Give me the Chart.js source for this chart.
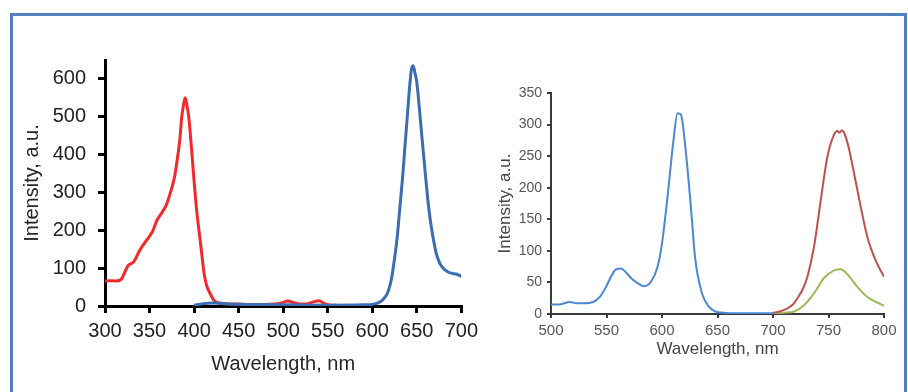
<!DOCTYPE html>
<html>
<head>
<meta charset="utf-8">
<script src="https://cdn.jsdelivr.net/npm/chart.js@4/dist/chart.umd.min.js"></script>
<style>
  html, body { margin: 0; padding: 0; background: #fff; width: 908px; height: 392px; overflow: hidden; }
  #frame { position: absolute; left: 10px; top: 13px; width: 897px; height: 400px; border: 3px solid #4f81bd; box-sizing: border-box; }
  #leftWrap { position: absolute; left: 0; top: 0; width: 484px; height: 392px; }
  #rightWrap { position: absolute; left: 470px; top: 0; width: 438px; height: 392px; }
</style>
</head>
<body>
<div id="frame"></div>
<div id="leftWrap"><canvas id="left" width="484" height="392"></canvas></div>
<div id="rightWrap"><canvas id="right" width="438" height="392"></canvas></div>
<script>
// ---------- Left panel data ----------
const leftXTicks = [300, 350, 400, 450, 500, 550, 600, 650, 700];
const leftYTicks = [0, 100, 200, 300, 400, 500, 600];

const leftRedWl  = [300, 305, 312, 318, 322, 326, 332, 339, 344, 349, 354, 358, 364, 369, 375, 378, 381, 384, 386, 388, 390, 392, 394, 397, 400, 403, 406, 409, 411, 414, 418, 422, 426, 430, 440, 450, 460, 470, 480, 490, 498, 505, 512, 520, 528, 534, 540, 546, 552, 560];
const leftRedInt = [66, 67, 66, 70, 88, 107, 116, 147, 165, 181, 200, 225, 247, 268, 312, 340, 385, 440, 496, 530, 550, 530, 500, 420, 330, 250, 190, 130, 90, 55, 33, 16, 9, 7, 5, 5, 4, 4, 4, 5, 8, 13, 9, 5, 6, 11, 14, 7, 3, 2];

const leftBlueWl  = [400, 410, 420, 430, 440, 460, 500, 550, 590, 602, 609, 613, 617, 620, 622, 625, 628, 631, 634, 637, 640, 642, 644, 646, 648, 650, 653, 656, 659, 662, 665, 668, 672, 676, 680, 685, 690, 695, 700];
const leftBlueInt = [2, 6, 8, 7, 5, 4, 3, 2, 3, 5, 11, 20, 33, 55, 77, 125, 181, 260, 338, 430, 520, 580, 625, 635, 615, 592, 520, 440, 365, 290, 230, 185, 138, 112, 99, 90, 86, 84, 78];

// ---------- Right panel data ----------
const rightXTicks = [500, 550, 600, 650, 700, 750, 800];
const rightYTicks = [0, 50, 100, 150, 200, 250, 300, 350];

const rightBlueWl  = [500, 505, 510, 517, 523, 529, 538, 544, 549, 554, 558, 563, 567, 572, 578, 584, 590, 596, 600, 605, 610, 614, 617, 621, 626, 630, 636, 642, 648, 655, 670, 685, 700];
const rightBlueInt = [15, 15, 16, 19, 17, 17, 19, 27, 41, 59, 70, 72, 67, 57, 49, 44, 51, 75, 112, 186, 270, 318, 316, 265, 170, 86, 33, 12, 4, 2, 1, 1, 1];

const rightRedWl  = [700, 706, 713, 718, 722, 727, 731, 737, 743, 749, 755, 758, 760, 762, 764, 768, 773, 779, 785, 791, 796, 800];
const rightRedInt = [2, 4, 9, 15, 25, 40, 59, 107, 180, 249, 284, 290, 287, 291, 287, 265, 223, 170, 122, 91, 72, 59];

const rightGreenWl  = [700, 710, 719, 728, 737, 746, 755, 761, 767, 776, 785, 793, 800];
const rightGreenInt = [1, 2, 4, 14, 33, 57, 69, 71, 63, 43, 27, 19, 13];

const pts = (xs, ys) => xs.map((x, i) => ({ x: x, y: ys[i] }));
const keepTicks = (list) => (s) => { s.ticks = list.map(v => ({ value: v })); };

Chart.defaults.font.family = "'Liberation Sans', Arial, sans-serif";
Chart.defaults.animation = false;

new Chart(document.getElementById('left'), {
  type: 'line',
  data: {
    datasets: [
      { data: pts(leftRedWl, leftRedInt), borderColor: '#f22a2a', borderWidth: 3, pointRadius: 0, cubicInterpolationMode: 'monotone', order: 2 },
      { data: pts(leftBlueWl, leftBlueInt), borderColor: '#3a6db2', borderWidth: 3, pointRadius: 0, cubicInterpolationMode: 'monotone', order: 1 }
    ]
  },
  options: {
    responsive: false,
    layout: { padding: { left: 0, right: 20, top: 60, bottom: 16 } },
    plugins: { legend: { display: false }, tooltip: { enabled: false } },
    scales: {
      x: {
        type: 'linear', min: 300, max: 700,
        afterBuildTicks: keepTicks(leftXTicks),
        afterFit: (s) => { s.height = 70; },
        border: { display: true, color: '#000', width: 3 },
        grid: { drawOnChartArea: false, drawTicks: true, tickLength: 7, color: '#000', lineWidth: 3 },
        ticks: { color: '#222', font: { size: 20 }, padding: 6, maxRotation: 0, autoSkip: false },
        title: { display: true, text: 'Wavelength, nm', color: '#262626', font: { size: 20 }, padding: { top: 0, bottom: 0 } }
      },
      y: {
        type: 'linear', min: 0, max: 650,
        afterBuildTicks: keepTicks(leftYTicks),
        afterFit: (s) => { s.width = 105; },
        border: { display: true, color: '#000', width: 3 },
        grid: { drawOnChartArea: false, drawTicks: true, tickLength: 7, color: '#000', lineWidth: 3 },
        ticks: { color: '#222', font: { size: 20 }, padding: 12, autoSkip: false },
        title: { display: true, text: 'Intensity, a.u.', color: '#262626', font: { size: 20 }, padding: { top: 20, bottom: 0 } }
      }
    }
  }
});

new Chart(document.getElementById('right'), {
  type: 'line',
  data: {
    datasets: [
      { data: pts(rightBlueWl, rightBlueInt), borderColor: '#4a88d2', borderWidth: 2, pointRadius: 0, cubicInterpolationMode: 'monotone' },
      { data: pts(rightRedWl, rightRedInt), borderColor: '#c0504d', borderWidth: 2, pointRadius: 0, cubicInterpolationMode: 'monotone' },
      { data: pts(rightGreenWl, rightGreenInt), borderColor: '#9bbb59', borderWidth: 2, pointRadius: 0, cubicInterpolationMode: 'monotone' }
    ]
  },
  options: {
    responsive: false,
    layout: { padding: { left: 0, right: 24, top: 93, bottom: 28 } },
    plugins: { legend: { display: false }, tooltip: { enabled: false } },
    scales: {
      x: {
        type: 'linear', min: 500, max: 800,
        afterBuildTicks: keepTicks(rightXTicks),
        afterFit: (s) => { s.height = 50; },
        border: { display: true, color: '#3a3a3a', width: 2 },
        grid: { drawOnChartArea: false, drawTicks: true, tickLength: 4, color: '#3a3a3a', lineWidth: 2 },
        ticks: { color: '#555', font: { size: 15 }, padding: 4, maxRotation: 0, autoSkip: false },
        title: { display: true, text: 'Wavelength, nm', color: '#444', font: { size: 17 }, padding: { top: 0, bottom: 4 } }
      },
      y: {
        type: 'linear', min: 0, max: 350,
        afterBuildTicks: keepTicks(rightYTicks),
        afterFit: (s) => { s.width = 81; },
        border: { display: true, color: '#3a3a3a', width: 2 },
        grid: { drawOnChartArea: false, drawTicks: true, tickLength: 4, color: '#3a3a3a', lineWidth: 2 },
        ticks: { color: '#555', font: { size: 14 }, padding: 5, autoSkip: false },
        title: { display: true, text: 'Intensity, a.u.', color: '#444', font: { size: 17 }, padding: { top: 25, bottom: 0 } }
      }
    }
  }
});
</script>
</body>
</html>
